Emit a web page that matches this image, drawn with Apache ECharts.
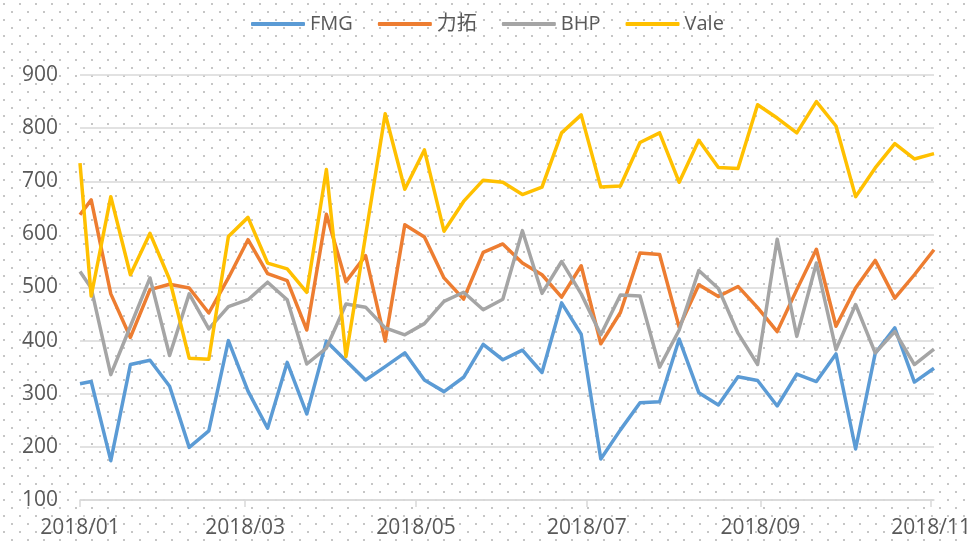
<!DOCTYPE html>
<html>
<head>
<meta charset="utf-8">
<title>FMG / 力拓 / BHP / Vale</title>
<script src="https://cdn.jsdelivr.net/npm/echarts@6/dist/echarts.min.js"></script>
<style>
  html, body { margin: 0; padding: 0; background: #ffffff; }
  #chart { width: 970px; height: 541px; }
</style>
</head>
<body>
<div id="chart"></div>
<script>
  // weekly dates (first point is 1 Jan, then Fridays)
  const dates = [
    '2018-01-01', '2018-01-05', '2018-01-12', '2018-01-19', '2018-01-26',
    '2018-02-02', '2018-02-09', '2018-02-16', '2018-02-23',
    '2018-03-02', '2018-03-09', '2018-03-16', '2018-03-23', '2018-03-30',
    '2018-04-06', '2018-04-13', '2018-04-20', '2018-04-27',
    '2018-05-04', '2018-05-11', '2018-05-18', '2018-05-25',
    '2018-06-01', '2018-06-08', '2018-06-15', '2018-06-22', '2018-06-29',
    '2018-07-06', '2018-07-13', '2018-07-20', '2018-07-27',
    '2018-08-03', '2018-08-10', '2018-08-17', '2018-08-24', '2018-08-31',
    '2018-09-07', '2018-09-14', '2018-09-21', '2018-09-28',
    '2018-10-05', '2018-10-12', '2018-10-19', '2018-10-26',
    '2018-11-02'
  ]

  const fmg = [
    319, 323, 174, 355, 363, 314, 199, 230, 400,
    305, 235, 359, 262, 399, 362, 326, 351, 377,
    326, 304, 331, 393, 364, 382, 340, 471, 412,
    177, 232, 283, 285, 403, 302, 279, 332, 325,
    277, 337, 323, 375, 196, 376, 424, 322, 348
  ]
  const rioTinto = [
    637, 665, 488, 406, 496, 506, 499, 452, 518,
    590, 526, 513, 420, 638, 511, 560, 399, 618,
    595, 518, 478, 566, 582, 546, 524, 482, 541,
    394, 453, 565, 562, 425, 505, 483, 502, 462,
    417, 496, 572, 427, 499, 551, 480, 524, 571
  ]
  const bhp = [
    530, 499, 336, 427, 518, 372, 488, 422, 464,
    477, 510, 477, 356, 386, 469, 463, 424, 411,
    432, 474, 491, 458, 478, 607, 489, 549, 488,
    411, 486, 484, 350, 420, 532, 498, 414, 355,
    591, 408, 546, 383, 468, 377, 417, 355, 384
  ]
  const vale = [
    734, 484, 671, 524, 602, 515, 367, 365, 596,
    632, 546, 535, 491, 722, 370, 598, 827, 685,
    759, 606, 662, 702, 698, 675, 689, 791, 825,
    689, 691, 773, 791, 698, 777, 726, 724, 844,
    819, 791, 850, 804, 671, 725, 771, 742, 752
  ]

  const seriesNames = ['FMG', '力拓', 'BHP', 'Vale']
  const tickDates = ['2018-01-01', '2018-03-01', '2018-05-01', '2018-07-01', '2018-09-01', '2018-11-01']
  const tickLabels = ['2018/01', '2018/03', '2018/05', '2018/07', '2018/09', '2018/11']

  // x axis is a day count from the first date
  const DAY = 24 * 3600 * 1000
  function dayOf(s) {
    return Math.round((Date.UTC(+s.slice(0, 4), +s.slice(5, 7) - 1, +s.slice(8, 10)) - Date.UTC(2018, 0, 1)) / DAY)
  }

  const tickDays = tickDates.map(dayOf)

  function pairs(values) {
    return values.map((v, i) => [dayOf(dates[i]), v])
  }

  // dotted background like the office pattern fill
  const tile = document.createElement('canvas')
  tile.width = 16
  tile.height = 16
  const tctx = tile.getContext('2d')
  tctx.fillStyle = '#ffffff'
  tctx.fillRect(0, 0, 16, 16)
  tctx.fillStyle = '#c6c6c6'
  tctx.fillRect(3, 3, 2, 2)
  tctx.fillRect(11, 11, 2, 2)

  const font = "'Open Sans', 'Noto Sans CJK SC', sans-serif"
  const colors = ['#5b9bd5', '#ed7d31', '#a5a5a5', '#ffc000']
  const allValues = [fmg, rioTinto, bhp, vale]

  const option = {
    backgroundColor: { image: tile, repeat: 'repeat' },
    animation: false,
    color: colors,
    legend: {
      data: seriesNames,
      left: 246,
      top: 9,
      icon: 'roundRect',
      itemWidth: 54,
      itemHeight: 4,
      itemGap: 25,
      textStyle: { color: '#595959', fontSize: 20, fontFamily: font }
    },
    grid: { left: 80, right: 36, top: 75, bottom: 41, containLabel: false, outerBoundsMode: 'none' },
    xAxis: {
      type: 'value',
      min: 0,
      max: dayOf(dates[dates.length - 1]),
      axisLine: { show: true, onZero: false, lineStyle: { color: '#d9d9d9', width: 1.5 } },
      axisTick: {
        show: true,
        length: 7,
        customValues: tickDays,
        lineStyle: { color: '#d9d9d9', width: 1.5 }
      },
      axisLabel: {
        customValues: tickDays,
        margin: 18,
        color: '#595959',
        fontSize: 21,
        fontFamily: font,
        hideOverlap: false,
        formatter: function (val) {
          const k = tickDays.indexOf(Math.round(val))
          return k >= 0 ? tickLabels[k] : ''
        }
      },
      splitLine: { show: false }
    },
    yAxis: {
      type: 'value',
      min: 100,
      max: 900,
      interval: 100,
      axisLine: { show: false },
      axisTick: { show: false },
      axisLabel: { margin: 22, color: '#595959', fontSize: 21, fontFamily: font },
      splitLine: { lineStyle: { color: '#d9d9d9', width: 1.5 } }
    },
    series: seriesNames.map((name, k) => ({
      name: name,
      type: 'line',
      data: pairs(allValues[k]),
      showSymbol: false,
      symbol: 'none',
      smooth: false,
      lineStyle: { width: 3.5, color: colors[k], join: 'round' }
    }))
  }

  const chart = echarts.init(document.getElementById('chart'))
  chart.setOption(option)
</script>
</body>
</html>
